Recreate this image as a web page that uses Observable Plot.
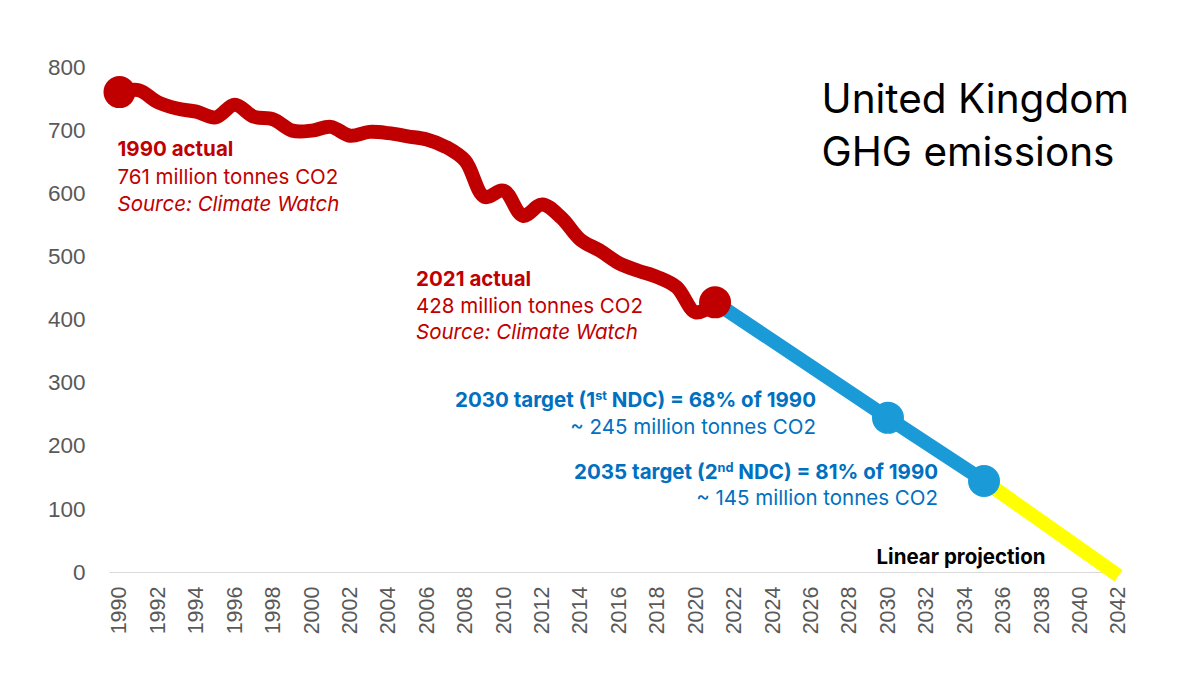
<!DOCTYPE html>
<html>
<head>
<meta charset="utf-8">
<script src="https://cdn.jsdelivr.net/npm/d3@7"></script>
<script src="https://cdn.jsdelivr.net/npm/@observablehq/plot@0.6"></script>
<style>
  html, body { margin: 0; padding: 0; background: #fff; }
  #chart { width: 1200px; height: 675px; overflow: hidden; }
</style>
</head>
<body>
<div id="chart"></div>
<script>
// ---- Data ----
const years = [1990, 1991, 1992, 1993, 1994, 1995, 1996, 1997, 1998, 1999,
               2000, 2001, 2002, 2003, 2004, 2005, 2006, 2007, 2008, 2009,
               2010, 2011, 2012, 2013, 2014, 2015, 2016, 2017, 2018, 2019,
               2020, 2021];
const emissions = [761, 764, 745, 735, 730, 721, 741, 722, 718, 700,
                   700, 706, 692, 698, 696, 691, 686, 674, 652, 595,
                   605, 565, 583, 562, 527, 510, 490, 478, 468, 452,
                   412, 428];
const targetYears = [2021, 2030, 2035];
const targetValues = [428, 245, 145];
const projectionYears = [2035, 2042];
const projectionValues = [145, -5];
const xTicks = [1990, 1992, 1994, 1996, 1998, 2000, 2002, 2004, 2006, 2008,
                2010, 2012, 2014, 2016, 2018, 2020, 2022, 2024, 2026, 2028,
                2030, 2032, 2034, 2036, 2038, 2040, 2042];
const yTicks = [0, 100, 200, 300, 400, 500, 600, 700, 800];
const titleLines = ["United Kingdom", "GHG emissions"];

// ---- Tables built from the arrays ----
const actual = years.map((year, i) => ({year, value: emissions[i]}));
const targets = targetYears.map((year, i) => ({year, value: targetValues[i]}));
const projection = projectionYears.map((year, i) => ({year, value: projectionValues[i]}));
const first = actual[0];
const last = actual[actual.length - 1];

const RED = "#C00000";
const BLUE = "#1A9BD7";
const BLUE_TEXT = "#0070C0";
const YELLOW = "#FFFF00";
const GREY = "#595959";
const NOTE_FONT = "Inter, 'Open Sans', sans-serif";

const note = (d, text, opts) => Plot.text([d], {
  x: "year", y: "value", text: () => text,
  fontFamily: NOTE_FONT, fontSize: 20.5, lineAnchor: "middle", ...opts
});

const chart = Plot.plot({
  width: 1200,
  height: 675,
  marginLeft: 95,
  marginRight: 40,
  marginTop: 20,
  marginBottom: 103,
  style: {fontFamily: "'Liberation Sans', Arial, sans-serif", background: "#fff", overflow: "visible"},
  x: {domain: [1990, 2042], range: [119, 1118]},
  y: {domain: [0, 800], range: [572, 67]},
  marks: [
    Plot.ruleY([0], {x1: 1989.5, x2: 2041.5, stroke: "#d9d9d9", strokeWidth: 1.2}),
    Plot.axisY({ticks: yTicks, tickSize: 0, tickPadding: 10, fontSize: 22.5, fill: GREY, label: null}),
    Plot.axisX({ticks: xTicks, tickFormat: d => String(d), tickRotate: -90, tickSize: 0, tickPadding: 14, fontSize: 21.5, fill: GREY, label: null}),
    // projection + targets + actual
    Plot.line(projection, {x: "year", y: "value", stroke: YELLOW, strokeWidth: 14, strokeLinecap: "butt"}),
    Plot.line(targets, {x: "year", y: "value", stroke: BLUE, strokeWidth: 14, strokeLinecap: "butt"}),
    Plot.line(actual, {x: "year", y: "value", stroke: RED, strokeWidth: 14, curve: "catmull-rom", strokeLinejoin: "round", strokeLinecap: "round"}),
    Plot.dot(targets.slice(1), {x: "year", y: "value", r: 16, fill: BLUE}),
    Plot.dot([first, last], {x: "year", y: "value", r: 16, fill: RED}),
    // title
    Plot.text([titleLines.join("\n")], {text: d => d, frameAnchor: "top-left", dx: 726, dy: 102,
      textAnchor: "start", lineAnchor: "middle", fontSize: 40.5, lineHeight: 1.3, fill: "#000", fontFamily: NOTE_FONT}),
    // 1990 annotation
    note(first, "1990 actual", {dx: -2, dy: 57, textAnchor: "start", fill: RED, fontWeight: "bold"}),
    note(first, `${first.value} million tonnes CO2`, {dx: -2, dy: 85, textAnchor: "start", fill: RED}),
    note(first, "Source: Climate Watch", {dx: -2, dy: 112, textAnchor: "start", fill: RED, fontStyle: "italic"}),
    // 2021 annotation
    note(last, "2021 actual", {dx: -299, dy: -23, textAnchor: "start", fill: RED, fontWeight: "bold"}),
    note(last, `${last.value} million tonnes CO2`, {dx: -299, dy: 4, textAnchor: "start", fill: RED}),
    note(last, "Source: Climate Watch", {dx: -299, dy: 30, textAnchor: "start", fill: RED, fontStyle: "italic"}),
    // 2030 target
    note(targets[1], "2030 target (1st NDC) = 68% of 1990", {dx: -72, dy: -17, textAnchor: "end", fill: BLUE_TEXT, fontWeight: "bold"}),
    note(targets[1], `~ ${targets[1].value} million tonnes CO2`, {dx: -72, dy: 10, textAnchor: "end", fill: BLUE_TEXT}),
    // 2035 target
    note(targets[2], "2035 target (2nd NDC) = 81% of 1990", {dx: -46, dy: -9, textAnchor: "end", fill: BLUE_TEXT, fontWeight: "bold"}),
    note(targets[2], `~ ${targets[2].value} million tonnes CO2`, {dx: -46, dy: 17, textAnchor: "end", fill: BLUE_TEXT}),
    // projection label
    note(projection[1], "Linear projection", {dx: -73, dy: -18, textAnchor: "end", fill: "#000", fontWeight: "bold"})
  ]
});

// superscripts for "1st" / "2nd"
d3.select(chart).selectAll("text").each(function () {
  const t = this.textContent;
  const m = t.match(/^(.*\(\d)(st|nd)( NDC\).*)$/);
  if (m && this.childElementCount === 0) {
    const sel = d3.select(this);
    sel.text(null);
    sel.append("tspan").text(m[1]);
    sel.append("tspan").attr("baseline-shift", "super").attr("font-size", "62%").text(m[2]);
    sel.append("tspan").text(m[3]);
  }
});

document.getElementById("chart").appendChild(chart);
</script>
</body>
</html>
